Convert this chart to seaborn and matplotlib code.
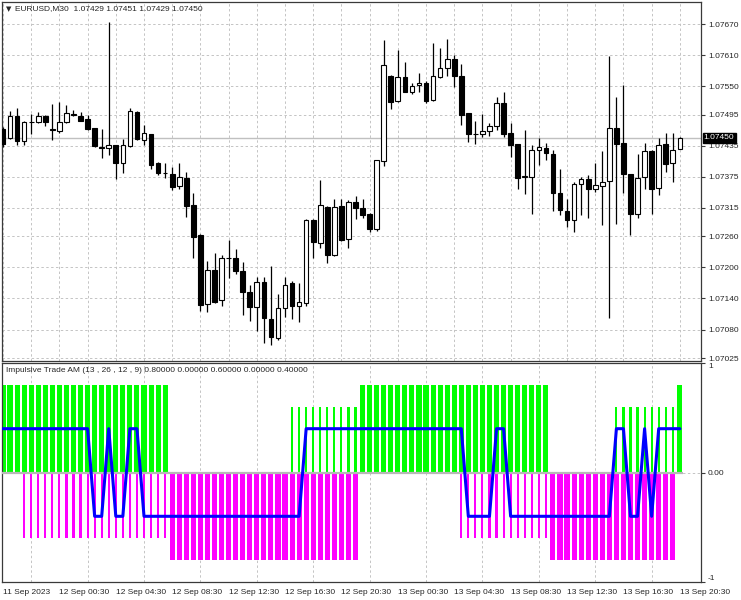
import numpy as np
import pandas as pd
import matplotlib
matplotlib.use("Agg")
import matplotlib.pyplot as plt
import matplotlib.transforms as mtransforms
import seaborn as sns

# ── data ───────────────────────────────────────────────────────────────────
# EURUSD M30, 11 Sep 20:30 .. 13 Sep 20:30 (97 bars)
opens = [
    1.07467, 1.07450, 1.07493, 1.07444, 1.07480, 1.07480, 1.07493, 1.07467,
    1.07464, 1.07480, 1.07496, 1.07493, 1.07486, 1.07469, 1.07432, 1.07431,
    1.07436, 1.07402, 1.07434, 1.07501, 1.07446, 1.07457, 1.07401, 1.07383,
    1.07380, 1.07357, 1.07372, 1.07320, 1.07263, 1.07129, 1.07195, 1.07138,
    1.07218, 1.07219, 1.07193, 1.07152, 1.07123, 1.07172, 1.07100, 1.07063,
    1.07122, 1.07169, 1.07126, 1.07131, 1.07292, 1.07247, 1.07317, 1.07224,
    1.07319, 1.07254, 1.07326, 1.07315, 1.07304, 1.07274, 1.07405, 1.07570,
    1.07521, 1.07568, 1.07539, 1.07552, 1.07557, 1.07523, 1.07567, 1.07586,
    1.07602, 1.07570, 1.07498, 1.07458, 1.07458, 1.07464, 1.07473, 1.07517,
    1.07460, 1.07438, 1.07375, 1.07375, 1.07427, 1.07431, 1.07419, 1.07343,
    1.07309, 1.07292, 1.07362, 1.07370, 1.07351, 1.07357, 1.07367, 1.07469,
    1.07440, 1.07380, 1.07304, 1.07374, 1.07425, 1.07353, 1.07438, 1.07401,
    1.07429,
]
highs = [
    1.07471, 1.07502, 1.07508, 1.07483, 1.07496, 1.07500, 1.07495, 1.07516,
    1.07520, 1.07514, 1.07503, 1.07501, 1.07494, 1.07470, 1.07467, 1.07673,
    1.07437, 1.07448, 1.07507, 1.07502, 1.07475, 1.07458, 1.07404, 1.07402,
    1.07393, 1.07401, 1.07384, 1.07343, 1.07264, 1.07213, 1.07228, 1.07224,
    1.07253, 1.07235, 1.07211, 1.07166, 1.07181, 1.07182, 1.07203, 1.07148,
    1.07181, 1.07174, 1.07169, 1.07293, 1.07293, 1.07369, 1.07318, 1.07333,
    1.07332, 1.07330, 1.07338, 1.07333, 1.07306, 1.07408, 1.07639, 1.07571,
    1.07620, 1.07597, 1.07557, 1.07575, 1.07560, 1.07633, 1.07623, 1.07641,
    1.07610, 1.07592, 1.07499, 1.07483, 1.07496, 1.07478, 1.07530, 1.07539,
    1.07478, 1.07439, 1.07465, 1.07436, 1.07449, 1.07440, 1.07427, 1.07391,
    1.07333, 1.07365, 1.07375, 1.07378, 1.07401, 1.07425, 1.07608, 1.07530,
    1.07552, 1.07381, 1.07419, 1.07441, 1.07427, 1.07449, 1.07459, 1.07460,
    1.07451,
]
lows = [
    1.07432, 1.07448, 1.07436, 1.07436, 1.07458, 1.07478, 1.07473, 1.07446,
    1.07459, 1.07479, 1.07492, 1.07482, 1.07465, 1.07433, 1.07411, 1.07417,
    1.07370, 1.07383, 1.07433, 1.07446, 1.07436, 1.07391, 1.07378, 1.07373,
    1.07349, 1.07351, 1.07297, 1.07219, 1.07116, 1.07114, 1.07132, 1.07125,
    1.07179, 1.07187, 1.07109, 1.07096, 1.07078, 1.07055, 1.07050, 1.07060,
    1.07105, 1.07100, 1.07095, 1.07126, 1.07219, 1.07238, 1.07209, 1.07223,
    1.07251, 1.07238, 1.07293, 1.07296, 1.07268, 1.07270, 1.07396, 1.07506,
    1.07519, 1.07538, 1.07535, 1.07539, 1.07517, 1.07522, 1.07566, 1.07570,
    1.07549, 1.07475, 1.07442, 1.07438, 1.07452, 1.07454, 1.07465, 1.07452,
    1.07413, 1.07351, 1.07341, 1.07303, 1.07398, 1.07407, 1.07308, 1.07301,
    1.07279, 1.07269, 1.07302, 1.07295, 1.07346, 1.07282, 1.07102, 1.07284,
    1.07343, 1.07263, 1.07295, 1.07351, 1.07304, 1.07340, 1.07384, 1.07365,
    1.07429,
]
closes = [
    1.07438, 1.07492, 1.07445, 1.07481, 1.07481, 1.07493, 1.07481, 1.07466,
    1.07480, 1.07498, 1.07495, 1.07483, 1.07467, 1.07434, 1.07431, 1.07436,
    1.07402, 1.07436, 1.07502, 1.07447, 1.07459, 1.07398, 1.07383, 1.07382,
    1.07356, 1.07374, 1.07319, 1.07259, 1.07127, 1.07195, 1.07134, 1.07218,
    1.07219, 1.07194, 1.07153, 1.07124, 1.07172, 1.07102, 1.07066, 1.07122,
    1.07166, 1.07126, 1.07133, 1.07292, 1.07250, 1.07320, 1.07224, 1.07317,
    1.07253, 1.07327, 1.07315, 1.07301, 1.07274, 1.07407, 1.07591, 1.07520,
    1.07567, 1.07539, 1.07550, 1.07556, 1.07522, 1.07570, 1.07586, 1.07602,
    1.07570, 1.07494, 1.07458, 1.07457, 1.07464, 1.07473, 1.07517, 1.07458,
    1.07436, 1.07373, 1.07376, 1.07427, 1.07432, 1.07420, 1.07344, 1.07311,
    1.07292, 1.07362, 1.07370, 1.07351, 1.07359, 1.07365, 1.07470, 1.07438,
    1.07380, 1.07304, 1.07372, 1.07425, 1.07351, 1.07436, 1.07399, 1.07427,
    1.07450,
]

# Impulsive Trade AM buffers
strong_up = [
    0.8, 0.8, 0.8, 0.8, 0.8, 0.8, 0.8, 0.8, 0.8, 0.8, 0.8, 0.8, 0.8, 0.8, 0.8, 0.8,
    0.8, 0.8, 0.8, 0.8, 0.8, 0.8, 0.8, 0.8, 0, 0, 0, 0, 0, 0, 0, 0,
    0, 0, 0, 0, 0, 0, 0, 0, 0, 0, 0, 0, 0, 0, 0, 0,
    0, 0, 0, 0.8, 0.8, 0.8, 0.8, 0.8, 0.8, 0.8, 0.8, 0.8, 0.8, 0.8, 0.8, 0.8,
    0.8, 0.8, 0.8, 0.8, 0.8, 0.8, 0.8, 0.8, 0.8, 0.8, 0.8, 0.8, 0.8, 0.8, 0, 0,
    0, 0, 0, 0, 0, 0, 0, 0, 0, 0, 0, 0, 0, 0, 0, 0,
    0.8,
]
weak_up = [
    0, 0, 0, 0, 0, 0, 0, 0, 0, 0, 0, 0, 0, 0, 0, 0,
    0, 0, 0, 0, 0, 0, 0, 0, 0, 0, 0, 0, 0, 0, 0, 0,
    0, 0, 0, 0, 0, 0, 0, 0, 0, 0.6, 0.6, 0.6, 0.6, 0.6, 0.6, 0.6,
    0.6, 0.6, 0.6, 0, 0, 0, 0, 0, 0, 0, 0, 0, 0, 0, 0, 0,
    0, 0, 0, 0, 0, 0, 0, 0, 0, 0, 0, 0, 0, 0, 0, 0,
    0, 0, 0, 0, 0, 0, 0, 0.6, 0.6, 0.6, 0.6, 0.6, 0.6, 0.6, 0.6, 0.6,
    0,
]
strong_dn = [
    0, 0, 0, 0, 0, 0, 0, 0, 0, 0, 0, 0, 0, 0, 0, 0,
    0, 0, 0, 0, 0, 0, 0, 0, -0.8, -0.8, -0.8, -0.8, -0.8, -0.8, -0.8, -0.8,
    -0.8, -0.8, -0.8, -0.8, -0.8, -0.8, -0.8, -0.8, -0.8, -0.8, -0.8, -0.8, -0.8, -0.8, -0.8, -0.8,
    -0.8, -0.8, -0.8, 0, 0, 0, 0, 0, 0, 0, 0, 0, 0, 0, 0, 0,
    0, 0, 0, 0, 0, 0, 0, 0, 0, 0, 0, 0, 0, 0, -0.8, -0.8,
    -0.8, -0.8, -0.8, -0.8, -0.8, -0.8, -0.8, -0.8, -0.8, -0.8, -0.8, -0.8, -0.8, -0.8, -0.8, -0.8,
    0,
]
weak_dn = [
    0, 0, 0, -0.6, -0.6, -0.6, -0.6, -0.6, -0.6, -0.6, -0.6, -0.6, -0.6, -0.6, -0.6, -0.6,
    -0.6, -0.6, -0.6, -0.6, -0.6, -0.6, -0.6, -0.6, 0, 0, 0, 0, 0, 0, 0, 0,
    0, 0, 0, 0, 0, 0, 0, 0, 0, 0, 0, 0, 0, 0, 0, 0,
    0, 0, 0, 0, 0, 0, 0, 0, 0, 0, 0, 0, 0, 0, 0, 0,
    0, -0.6, -0.6, -0.6, -0.6, -0.6, -0.6, -0.6, -0.6, -0.6, -0.6, -0.6, -0.6, -0.6, 0, 0,
    0, 0, 0, 0, 0, 0, 0, 0, 0, 0, 0, 0, 0, 0, 0, 0,
    0,
]
signal = [
    0.4, 0.4, 0.4, 0.4, 0.4, 0.4, 0.4, 0.4, 0.4, 0.4, 0.4, 0.4, 0.4, -0.4, -0.4, 0.4,
    -0.4, -0.4, 0.4, 0.4, -0.4, -0.4, -0.4, -0.4, -0.4, -0.4, -0.4, -0.4, -0.4, -0.4, -0.4, -0.4,
    -0.4, -0.4, -0.4, -0.4, -0.4, -0.4, -0.4, -0.4, -0.4, -0.4, -0.4, 0.4, 0.4, 0.4, 0.4, 0.4,
    0.4, 0.4, 0.4, 0.4, 0.4, 0.4, 0.4, 0.4, 0.4, 0.4, 0.4, 0.4, 0.4, 0.4, 0.4, 0.4,
    0.4, 0.4, -0.4, -0.4, -0.4, -0.4, 0.4, 0.4, -0.4, -0.4, -0.4, -0.4, -0.4, -0.4, -0.4, -0.4,
    -0.4, -0.4, -0.4, -0.4, -0.4, -0.4, -0.4, 0.4, 0.4, -0.4, -0.4, 0.4, -0.4, 0.4, 0.4, 0.4,
    0.4,
]

price_ticks = [1.07025, 1.07080, 1.07140, 1.07200, 1.07260, 1.07315,
               1.07375, 1.07435, 1.07495, 1.07550, 1.07610, 1.07670]
last_price = 1.07450
time_tick_bars = [0, 8, 16, 24, 32, 40, 48, 56, 64, 72, 80, 88, 96]
time_tick_labels = ["11 Sep 2023", "12 Sep 00:30", "12 Sep 04:30", "12 Sep 08:30",
                    "12 Sep 12:30", "12 Sep 16:30", "12 Sep 20:30", "13 Sep 00:30",
                    "13 Sep 04:30", "13 Sep 08:30", "13 Sep 12:30", "13 Sep 16:30",
                    "13 Sep 20:30"]
title_text = "EURUSD,M30  1.07429 1.07451 1.07429 1.07450"
ind_text = "Impulsive Trade AM (13 , 26 , 12 , 9) 0.80000 0.00000 0.60000 0.00000 0.40000"

# ── figure ─────────────────────────────────────────────────────────────────
sns.set_style("white")
plt.rcParams["font.family"] = ["Liberation Sans", "DejaVu Sans"]

df = pd.DataFrame({"open": opens, "high": highs, "low": lows, "close": closes,
                   "signal": signal})
df["bar"] = np.arange(len(df))
bull = df["close"] >= df["open"]

W, H = 741, 600
fig = plt.figure(figsize=(W / 100, H / 100), dpi=100)
ax_p = fig.add_axes([2 / W, 1 - 361 / H, 699 / W, 359 / H])
ax_i = fig.add_axes([2 / W, 1 - 582 / H, 699 / W, 219 / H])

GRID = "#c4c4c4"
SPINE = "#3a3a3a"
xlim = (-0.14, 99.0)

# price panel
ax_p.vlines(df["bar"], df["low"], df["high"], color="black", lw=0.9, zorder=2)
ax_p.bar(df["bar"], (df["close"] - df["open"]).abs(),
         bottom=df[["open", "close"]].min(axis=1), width=0.66,
         color=np.where(bull, "white", "black"), edgecolor="black",
         linewidth=0.8, zorder=3)
ax_p.axhline(last_price, color="#c0c0c0", lw=1.0, zorder=1)

ax_p.set_xlim(*xlim)
ax_p.set_ylim(1.070193, 1.077125)
ax_p.yaxis.tick_right()
ax_p.set_yticks(price_ticks)
ax_p.set_yticklabels([f"{v:.5f}" for v in price_ticks])
ax_p.set_xticks([])
ax_p.set_xticks(range(0, 97, 4), minor=True)
ax_p.tick_params(axis="y", which="major", length=3, width=0.8, color=SPINE,
                 labelsize=6, pad=2, right=True)
ax_p.tick_params(axis="x", which="minor", length=0)
ax_p.grid(axis="y", which="major", color=GRID, lw=0.7, ls=(0, (2.5, 2.5)))
ax_p.grid(axis="x", which="minor", color=GRID, lw=0.7, ls=(0, (2.5, 2.5)))

trans = mtransforms.blended_transform_factory(ax_p.transAxes, ax_p.transData)
ax_p.text(1.004, last_price, "1.07450", transform=trans, fontsize=6,
          color="white", va="center", ha="left", zorder=10,
          bbox=dict(facecolor="black", edgecolor="black", pad=0.8))

# indicator panel
ax_i.bar(df["bar"], strong_up, width=0.72, color="#00ff00", linewidth=0, zorder=2)
ax_i.bar(df["bar"], weak_up, width=0.3, color="#00ff00", linewidth=0, zorder=2)
ax_i.bar(df["bar"], strong_dn, width=0.72, color="#ff00ff", linewidth=0, zorder=2)
ax_i.bar(df["bar"], weak_dn, width=0.3, color="#ff00ff", linewidth=0, zorder=2)
ax_i.hlines(0, -0.5, 96.4, color="#b8b8b8", lw=1.6, zorder=3)
sns.lineplot(data=df, x="bar", y="signal", color="#0000ff", lw=2.2,
             ax=ax_i, zorder=5)
ax_i.set_xlabel("")
ax_i.set_ylabel("")

ax_i.set_xlim(*xlim)
ax_i.set_ylim(-1, 1)
ax_i.yaxis.tick_right()
ax_i.set_yticks([-1, 0, 1])
ax_i.set_yticklabels(["-1", "0.00", "1"])
ylabs = ax_i.get_yticklabels()
ylabs[0].set_va("bottom")
ylabs[2].set_va("top")
ax_i.set_xticks(time_tick_bars)
ax_i.set_xticklabels(time_tick_labels, ha="left")
ax_i.set_xticks(range(0, 97, 4), minor=True)
ax_i.tick_params(axis="both", which="major", length=3, width=0.8, color=SPINE,
                 labelsize=6, pad=2)
ax_i.tick_params(axis="x", which="minor", length=0)
ax_i.grid(axis="x", which="minor", color=GRID, lw=0.7, ls=(0, (2.5, 2.5)))
ax_i.grid(axis="y", which="major", color=GRID, lw=0.7, ls=(0, (2.5, 2.5)))

for ax in (ax_p, ax_i):
    ax.set_facecolor("white")
    ax.set_axisbelow(True)
    for s in ax.spines.values():
        s.set_visible(True)
        s.set_color(SPINE)
        s.set_linewidth(0.9)

fig.text(6 / W, 1 - 9 / H, "\u25bc", fontsize=5, family="DejaVu Sans",
         va="center", ha="left")
fig.text(15 / W, 1 - 9 / H, title_text, fontsize=6, va="center", ha="left")
fig.text(6 / W, 1 - 371 / H, ind_text, fontsize=6, va="center", ha="left")

fig.savefig("out.png", dpi=100)
plt.close(fig)
